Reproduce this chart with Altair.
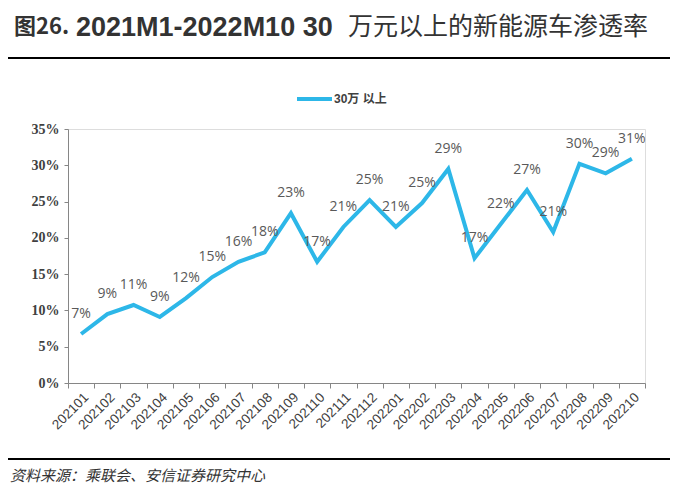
import altair as alt
import pandas as pd

months = ["202101","202102","202103","202104","202105","202106","202107","202108","202109","202110","202111","202112",
          "202201","202202","202203","202204","202205","202206","202207","202208","202209","202210"]
values = [0.0675,0.095,0.1075,0.091,0.117,0.146,0.167,0.180,0.234,0.167,0.215,0.252,
          0.215,0.248,0.295,0.172,0.219,0.266,0.208,0.302,0.289,0.309]
labels = ["7%","9%","11%","9%","12%","15%","16%","18%","23%","17%","21%","25%",
          "21%","25%","29%","17%","22%","27%","21%","30%","29%","31%"]
y_ticks = [0, 0.05, 0.10, 0.15, 0.20, 0.25, 0.30, 0.35]
series_name = "30万 以上"
title_parts = ["图26.", "2021M1-2022M10 30", "万元以上的新能源车渗透率"]
source_text = "资料来源：乘联会、安信证券研究中心"

df = pd.DataFrame({"month": months, "value": values, "label": labels})

W, H = 577, 254
BLUE = "#2DB7E8"

x = alt.X("month:N", sort=months, title=None,
          axis=alt.Axis(labelAngle=-45, labelFontSize=13.5, labelColor="#404040", labelFont="Liberation Sans",
                        domainColor="#868686", tickColor="#868686", tickSize=5, tickBand="extent",
                        labelPadding=2))
y = alt.Y("value:Q", title=None,
          scale=alt.Scale(domain=[0, 0.35], nice=False),
          axis=alt.Axis(values=y_ticks, format=".0%", grid=False,
                        labelOverlap=False, labelFontSize=14, labelFontWeight="bold", labelColor="#404040",
                        labelFont="Liberation Sans Narrow", domainColor="#868686", tickColor="#868686",
                        tickSize=4, labelPadding=5))

base = alt.Chart(df).encode(x=x, y=y)
line = base.mark_line(color=BLUE, strokeWidth=4, strokeJoin="miter")
text = base.mark_text(dy=-20, fontSize=14, color="#595959", font="Open Sans").encode(text="label:N")

one = pd.DataFrame({"a": [0]})
t1 = alt.Chart(one).mark_text(align="left", baseline="middle", fontSize=22, fontWeight="bold",
                              color="#333333", font="Noto Sans CJK SC").encode(
    x=alt.value(-54), y=alt.value(-102), text=alt.value(title_parts[0]))
t2 = alt.Chart(one).mark_text(align="left", baseline="middle", fontSize=27, fontWeight="bold",
                              color="#333333", font="Liberation Sans").encode(
    x=alt.value(8), y=alt.value(-101), text=alt.value(title_parts[1]))
t3 = alt.Chart(one).mark_text(align="left", baseline="middle", fontSize=25,
                              color="#333333", font="Noto Sans CJK SC").encode(
    x=alt.value(280), y=alt.value(-102), text=alt.value(title_parts[2]))
rule_top = alt.Chart(one).mark_rule(color="#000000", strokeWidth=2).encode(
    x=alt.value(-60), x2=alt.value(602), y=alt.value(-71))
leg_line = alt.Chart(one).mark_rule(color=BLUE, strokeWidth=4).encode(
    x=alt.value(229), x2=alt.value(264), y=alt.value(-30))
leg_text = alt.Chart(one).mark_text(align="left", baseline="middle", fontSize=12, fontWeight="bold",
                                    color="#404040", font="Liberation Sans, Noto Sans CJK SC").encode(
    x=alt.value(266), y=alt.value(-30), text=alt.value(series_name))
rule_bot = alt.Chart(one).mark_rule(color="#000000", strokeWidth=2).encode(
    x=alt.value(-60), x2=alt.value(602), y=alt.value(330))
source = alt.Chart(one).mark_text(align="left", baseline="middle", fontSize=15, fontStyle="italic",
                                  color="#333333", font="Noto Sans CJK SC").encode(
    x=alt.value(-58), y=alt.value(347), text=alt.value(source_text))

chart = alt.layer(line, text, t1, t2, t3, rule_top, leg_line, leg_text, rule_bot, source).properties(
    width=W, height=H,
    autosize=alt.AutoSizeParams(type="none"),
    padding={"left": 60, "top": 121, "right": 31, "bottom": 104},
).configure_view(stroke=None).configure(background="white")

chart.save("out.html", embed_options={"renderer": "svg", "actions": False})
